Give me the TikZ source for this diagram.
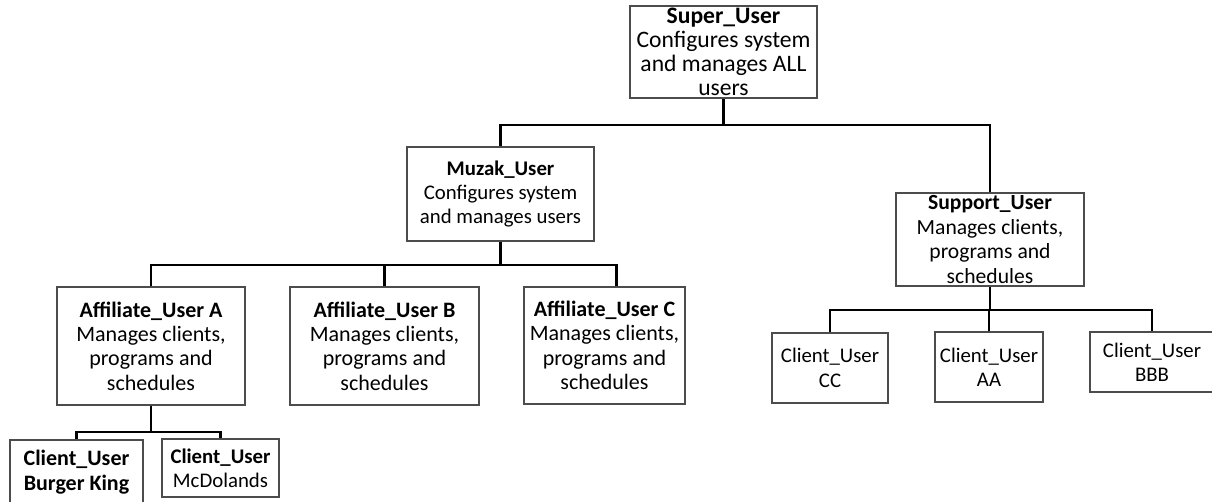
\documentclass[tikz,border=0pt]{standalone}
\usepackage{fontspec}
\setmainfont{Carlito}
\usetikzlibrary{positioning}

\begin{document}
\begin{tikzpicture}[x=0.5pt,y=-0.5pt,
 box/.style={draw=black!70,line width=0.7pt,fill=white,align=center,inner sep=0pt,
  font=\fontsize{10.4}{12.2}\selectfont},
 bigbox/.style={box,font=\fontsize{11}{12.2}\selectfont},
 link/.style={black,line width=1.1pt}]
 \useasboundingbox (0,0) rectangle (1212,502);
 % top level
 \node[box,minimum width=93.5pt,minimum height=46pt,font=\fontsize{11.8}{11.9}\selectfont] (super) at (723.5,52)
  {\textbf{Super\_User}\\Configures system\\and manages ALL\\users};
 % second level
 \node[box,minimum width=93.5pt,minimum height=47pt] (muzak) at (500.5,194)
  {\textbf{Muzak\_User}\\Configures system\\and manages users};
 \node[box,minimum width=94pt,minimum height=46.5pt,font=\fontsize{10.8}{12.2}\selectfont] (support) at (990,239.5)
  {\textbf{Support\_User}\\Manages clients,\\programs and\\schedules};
 % affiliates
 \node[bigbox,minimum width=94pt,minimum height=59pt] (affA) at (151,346)
  {\textbf{Affiliate\_User A}\\Manages clients,\\programs and\\schedules};
 \node[bigbox,minimum width=94.5pt,minimum height=59pt] (affB) at (384.5,346)
  {\textbf{Affiliate\_User B}\\Manages clients,\\programs and\\schedules};
 \node[bigbox,minimum width=80.5pt,minimum height=58.5pt] (affC) at (604.5,345.5)
  {\textbf{Affiliate\_User C}\\Manages clients,\\programs and\\schedules};
 % clients
 \node[bigbox,minimum width=66.5pt,minimum height=32pt] (burger) at (76.5,472)
  {\textbf{Client\_User}\\\textbf{Burger King}};
 \node[box,minimum width=58.5pt,minimum height=29pt] (mcdo) at (220.5,468)
  {\textbf{Client\_User}\\McDolands};
 \node[box,minimum width=58pt,minimum height=35pt] (cc) at (830,368)
  {Client\_User\\CC};
 \node[box,minimum width=54pt,minimum height=35pt] (aa) at (989,367)
  {Client\_User\\AA};
 \node[box,minimum width=62pt,minimum height=30pt] (bbb) at (1152,362)
  {Client\_User\\BBB};
 % connectors
 \draw[link] (super.south) -- (super.south |- 0,125) -| (muzak.north);
 \draw[link] (super.south |- 0,125) -| (support.north);
 \draw[link] (muzak.south) -- (muzak.south |- 0,265) -| (affA.north);
 \draw[link] (muzak.south |- 0,265) -| ([xshift=6pt]affC.north);
 \draw[link] (affB.north) -- (affB.north |- 0,265);
 \draw[link] (affA.south) -- (affA.south |- 0,432) -| (burger.north);
 \draw[link] (affA.south |- 0,432) -| (mcdo.north);
 \draw[link] (support.south) -- (support.south |- 0,310) -| (cc.north);
 \draw[link] (support.south |- 0,310) -| (bbb.north);
 \draw[link] (aa.north) -- (aa.north |- 0,310);
\end{tikzpicture}
\end{document}
